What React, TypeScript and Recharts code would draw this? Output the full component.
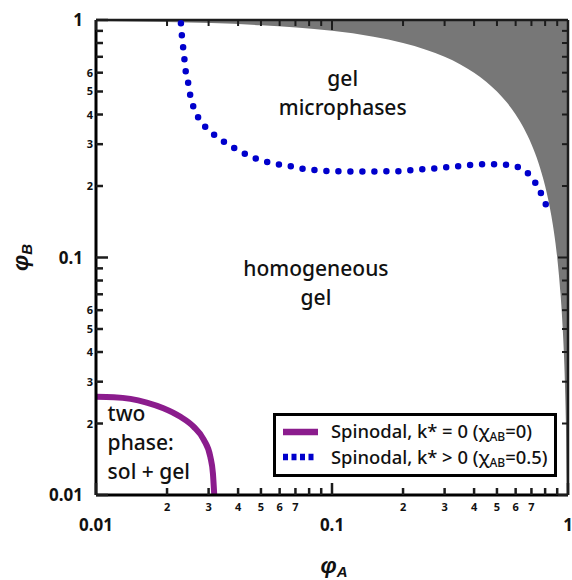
import React from 'react';
import { ComposedChart, Area, Line, Scatter, XAxis, YAxis, Legend, ReferenceLine } from 'recharts';

const FONT = '"Noto Sans", "DejaVu Sans", sans-serif';
const TITLE_FONT = '"Liberation Sans", Arial, sans-serif';
const INK = '#1c1c1c';

// plot box size in px, used to mirror the ticks on top and right
const PLOT_W = 472;
const PLOT_H = 475;

// log ticks for both axes, and which minor ticks get a digit
const logTicks = [
  0.01, 0.02, 0.03, 0.04, 0.05, 0.06, 0.07, 0.08, 0.09,
  0.1, 0.2, 0.3, 0.4, 0.5, 0.6, 0.7, 0.8, 0.9, 1,
];
const xMinorLabeled = [2, 3, 4, 5, 6, 7];
const yMinorLabeled = [2, 3, 4, 5, 6];

// edge of the allowed region (gray above it)
const edgeA = [0.01, 0.02, 0.05, 0.1, 0.15, 0.2, 0.25, 0.3, 0.35, 0.4, 0.45, 0.5, 0.55, 0.6, 0.65, 0.7, 0.75, 0.8, 0.85, 0.9, 0.93, 0.95, 0.97, 0.98, 0.99, 1];
const edgeB = [0.99, 0.98, 0.95, 0.9, 0.85, 0.8, 0.75, 0.7, 0.65, 0.6, 0.55, 0.5, 0.45, 0.4, 0.35, 0.3, 0.25, 0.2, 0.15, 0.1, 0.07, 0.05, 0.03, 0.02, 0.01, 0.01];

// spinodal, k* = 0 (chiAB = 0)
const spinA = [0.01, 0.0119, 0.014, 0.0164, 0.0193, 0.0227, 0.0259, 0.0286, 0.0305, 0.0313, 0.0317];
const spinB = [0.0259, 0.0258, 0.0254, 0.0245, 0.0232, 0.0214, 0.0194, 0.0171, 0.0145, 0.0123, 0.01];

// spinodal, k* > 0 (chiAB = 0.5)
const microA = [
  0.0229, 0.0231, 0.0234, 0.0237, 0.024, 0.0246, 0.0251, 0.0259, 0.0273, 0.0294,
  0.0321, 0.0354, 0.0393, 0.0436, 0.0485, 0.0543, 0.0613, 0.0687, 0.0772, 0.0867,
  0.0975, 0.11, 0.124, 0.139, 0.157, 0.176, 0.199, 0.223, 0.252, 0.283,
  0.318, 0.358, 0.402, 0.454, 0.51, 0.573, 0.64, 0.695, 0.743, 0.785, 0.82,
];
const microB = [
  0.968, 0.865, 0.767, 0.683, 0.608, 0.541, 0.48, 0.429, 0.384, 0.35,
  0.325, 0.304, 0.286, 0.271, 0.259, 0.251, 0.245, 0.241, 0.235, 0.233,
  0.231, 0.231, 0.23, 0.23, 0.23, 0.231, 0.231, 0.234, 0.236, 0.238,
  0.241, 0.243, 0.246, 0.247, 0.247, 0.244, 0.236, 0.22, 0.199, 0.178, 0.16,
];

// region labels
const noteA = [0.111, 0.0855, 0.0112];
const noteB = [0.527, 0.0836, 0.0204];
const noteText = [['gel', 'microphases'], ['homogeneous', 'gel'], ['two', 'phase:', 'sol + gel']];
const noteAnchor = ['middle', 'middle', 'start'];

const edgeData = edgeA.map((a, i) => ({ x: a, band: [edgeB[i], 1] }));
const spinData = spinA.map((a, i) => ({ x: a, y: spinB[i] }));
const microData = microA.map((a, i) => ({ x: a, y: microB[i] }));
const noteData = noteA.map((a, i) => ({ x: a, y: noteB[i], lines: noteText[i], anchor: noteAnchor[i] }));

const PURPLE = '#8b1c8d';
const BLUE = '#0000cc';

function mantissa(v: number) {
  const e = Math.floor(Math.log10(v) + 1e-9);
  return Math.round(v / Math.pow(10, e));
}

// bottom axis tick, also draws the mirrored tick on the top edge
function BottomTick({ x, y, payload }: any) {
  const m = mantissa(payload.value);
  const major = m === 1;
  const top = y - PLOT_H;
  return (
    <g>
      <rect x={x - 1.25} y={y - (major ? 12 : 7)} width={2.5} height={major ? 12 : 7} fill={INK} />
      <rect x={x - 1} y={top} width={2} height={major ? 10 : 6} fill={INK} />
      {major && (
        <text x={x} y={y + 36} textAnchor="middle" fontFamily={FONT} fontWeight={700} fontSize={17} fill="#111">
          {String(payload.value)}
        </text>
      )}
      {!major && xMinorLabeled.includes(m) && (
        <text x={x} y={y + 16} textAnchor="middle" fontFamily={FONT} fontWeight={700} fontSize={11} fill="#111">
          {m}
        </text>
      )}
    </g>
  );
}

// left axis tick, also draws the mirrored tick on the right edge
function LeftTick({ x, y, payload }: any) {
  const m = mantissa(payload.value);
  const major = m === 1;
  const right = x + PLOT_W;
  return (
    <g>
      <rect x={x} y={y - 1.25} width={major ? 12 : 7} height={2.5} fill={INK} />
      <rect x={right - (major ? 10 : 6)} y={y - 1} width={major ? 10 : 6} height={2} fill={INK} />
      {major && (
        <text x={x - 13} y={y + 6} textAnchor="end" fontFamily={FONT} fontWeight={700} fontSize={17} fill="#111">
          {String(payload.value)}
        </text>
      )}
      {!major && yMinorLabeled.includes(m) && (
        <text x={x - 3} y={y + 4} textAnchor="end" fontFamily={FONT} fontWeight={700} fontSize={11} fill="#111">
          {m}
        </text>
      )}
    </g>
  );
}

function NoteShape({ cx, cy, payload }: any) {
  return (
    <text x={cx} y={cy} textAnchor={payload.anchor} fontFamily={FONT} fontSize={21} fontWeight={500} fill="#111">
      {payload.lines.map((t: string, i: number) => (
        <tspan key={i} x={cx} dy={i === 0 ? 0 : 29}>
          {t}
        </tspan>
      ))}
    </text>
  );
}

function XTitle({ viewBox }: any) {
  const cx = viewBox.x + viewBox.width / 2 + 2;
  return (
    <text x={cx} y={viewBox.y + 78} textAnchor="middle" fontFamily={TITLE_FONT} fontWeight={700} fontStyle="italic" fontSize={23} fill="#111">
      φ<tspan fontSize={15} dy={4}>A</tspan>
    </text>
  );
}

function YTitle({ viewBox }: any) {
  const tx = viewBox.x - 8;
  const ty = viewBox.y + viewBox.height / 2;
  return (
    <text x={tx} y={ty} transform={`rotate(-90 ${tx} ${ty})`} textAnchor="middle" fontFamily={TITLE_FONT} fontWeight={700} fontStyle="italic" fontSize={23} fill="#111">
      φ<tspan fontSize={15} dy={4}>B</tspan>
    </text>
  );
}

function LegendBox() {
  const txt = { fontFamily: FONT, fontSize: 18.4, fontWeight: 500, fill: '#111' };
  return (
    <svg width={284} height={64} style={{ display: 'block' }}>
      <rect x={1.5} y={1.5} width={281} height={61} fill="#fff" stroke="#000" strokeWidth={3} />
      <line x1={10} x2={45} y1={19} y2={19} stroke={PURPLE} strokeWidth={6.5} />
      <text x={58} y={24.5} {...txt}>
        Spinodal, k* = 0 (χ<tspan fontSize={12} dy={3}>AB</tspan>
        <tspan dy={-3}>=0)</tspan>
      </text>
      <line x1={10} x2={40.5} y1={44} y2={44} stroke={BLUE} strokeWidth={6.5} strokeDasharray="5 3.5" />
      <text x={58} y={50.5} {...txt}>
        Spinodal, k* &gt; 0 (χ<tspan fontSize={12} dy={3}>AB</tspan>
        <tspan dy={-3}>=0.5)</tspan>
      </text>
    </svg>
  );
}

export default function App() {
  return (
    <div style={{ position: 'relative', width: 572, height: 580, overflow: 'hidden' }}>
      <style>{'html, body { margin: 0; padding: 0; overflow: hidden; }'}</style>
      <ComposedChart width={572} height={580} margin={{ top: 20, right: 4, bottom: 25, left: 36 }}>
        <XAxis
          dataKey="x"
          type="number"
          scale="log"
          domain={[0.01, 1]}
          allowDataOverflow
          ticks={logTicks}
          interval={0}
          height={60}
          tickSize={0}
          tickMargin={0}
          tick={<BottomTick />}
          axisLine={{ stroke: '#000', strokeWidth: 3 }}
          label={{ content: (p: any) => <XTitle viewBox={p.viewBox} /> }}
        />
        <YAxis
          type="number"
          scale="log"
          domain={[0.01, 1]}
          allowDataOverflow
          ticks={logTicks}
          interval={0}
          width={60}
          tickSize={0}
          tickMargin={0}
          tick={<LeftTick />}
          axisLine={{ stroke: '#000', strokeWidth: 3 }}
          label={{ content: (p: any) => <YTitle viewBox={p.viewBox} /> }}
        />
        <Area
          data={edgeData}
          dataKey="band"
          type="monotone"
          fill="#777777"
          fillOpacity={1}
          stroke="none"
          isAnimationActive={false}
        />
        <ReferenceLine y={1} ifOverflow="visible" stroke={INK} strokeWidth={2.5} />
        <ReferenceLine x={1} ifOverflow="visible" stroke={INK} strokeWidth={2.5} />
        <Line
          data={spinData}
          dataKey="y"
          type="monotone"
          stroke={PURPLE}
          strokeWidth={6}
          strokeLinecap="round"
          dot={false}
          activeDot={false}
          isAnimationActive={false}
        />
        <Line
          data={microData}
          dataKey="y"
          type="monotone"
          stroke={BLUE}
          strokeWidth={6.5}
          strokeLinecap="round"
          strokeDasharray="0 12"
          dot={false}
          activeDot={false}
          isAnimationActive={false}
        />
        <Scatter data={noteData} dataKey="y" shape={<NoteShape />} isAnimationActive={false} />
        <Legend
          layout="horizontal"
          verticalAlign="middle"
          align="center"
          wrapperStyle={{ left: 273, top: 413, width: 284, height: 64 }}
          content={() => <LegendBox />}
        />
      </ComposedChart>
    </div>
  );
}
